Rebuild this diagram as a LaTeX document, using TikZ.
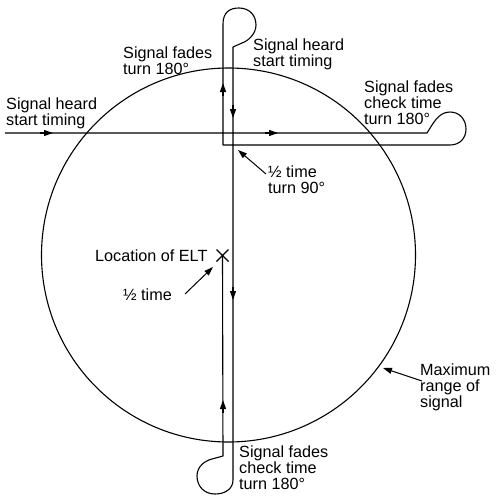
\documentclass[tikz,border=0pt]{standalone}
\usepackage{fontspec}
\setmainfont{Liberation Sans}
\usetikzlibrary{arrows.meta}
\begin{document}
\begin{tikzpicture}[x=1pt,y=-1pt,
  route/.style={line width=1.1pt, line join=round},
  tipmark/.style={-{Triangle[length=9pt,width=6pt]}, line width=1.1pt},
  txt/.style={font=\fontsize{16.2}{16}\selectfont, align=left, inner sep=0pt, anchor=base west},
  pointer/.style={-{Triangle[length=9pt,width=6pt]}, line width=1pt}]
\useasboundingbox (0,0) rectangle (500,501);
% range circle
\draw[route] (228.5,255) circle[radius=187];
% coordinates
\coordinate (start) at (5,133);
\coordinate (elt) at (222.5,255.5);
% flight path
\draw[route] (start) -- (427,133)
  .. controls (433,124) and (438,112) .. (450,112)
  .. controls (460,112) and (466,120) .. (466,129)
  .. controls (466,138) and (460,145) .. (450,145)
  -- (223,145) -- (223,24)
  .. controls (223,12) and (230,8) .. (239,8)
  .. controls (249,8) and (256,15) .. (256,25)
  .. controls (256,34) and (248,41) .. (242,43)
  -- (233,47) -- (233,480)
  .. controls (233,489) and (225,494) .. (215,494)
  .. controls (204,494) and (197,486) .. (197,476)
  .. controls (197,467) and (204,461) .. (212,459)
  -- (223,456) -- (elt);
% direction arrows
\draw[tipmark] (40,133) -- (53,133);
\draw[tipmark] (265,133) -- (278,133);
\draw[tipmark] (223,96) -- (223,83);
\draw[tipmark] (233,105) -- (233,118);
\draw[tipmark] (233,287) -- (233,300);
\draw[tipmark] (223,413) -- (223,400);
% ELT mark
\draw[line width=1.1pt] (216.5,249.5) -- (228.5,261.5) (228.5,249.5) -- (216.5,261.5);
% labels (anchored at the baseline of the last line)
\node[txt] (fadesA) at (123,74) {Signal fades\\turn 180°};
\node[txt] (heardA) at (253,66.5) {Signal heard\\start timing};
\node[txt] (fadesB) at (364,124.5) {Signal fades\\check time\\turn 180°};
\node[txt] (heardB) at (6,125) {Signal heard\\start timing};
\node[txt] (halfturn) at (268,193.5) {½ time\\turn 90°};
\node[txt] (loc) at (95,261) {Location of ELT};
\node[txt] (half) at (123,300) {½ time};
\node[txt] (fadesC) at (239,489) {Signal fades\\check time\\turn 180°};
\node[txt] (maxr) at (420,407) {Maximum\\range of\\signal};
% pointers
\coordinate (p1) at (266,174);
\coordinate (p1t) at (238,150);
\coordinate (p2) at (185,294);
\coordinate (p2t) at (213,267);
\coordinate (p3) at (422,381);
\coordinate (p3t) at (383,368);
\draw[pointer] (p1) -- (p1t);
\draw[pointer] (p2) -- (p2t);
\draw[pointer] (p3) -- (p3t);
\end{tikzpicture}
\end{document}
